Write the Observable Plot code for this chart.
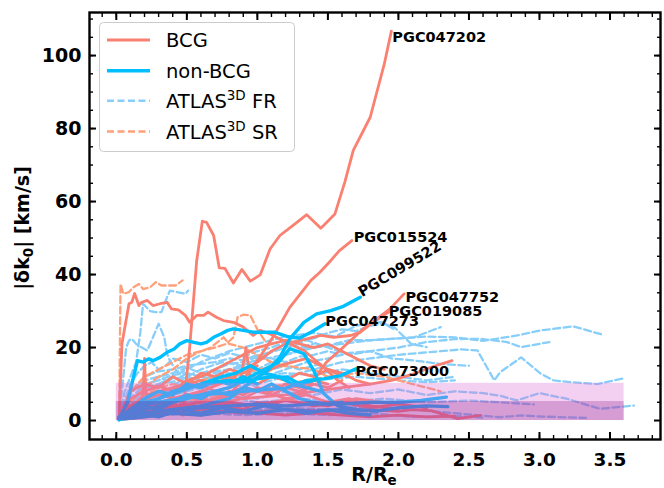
<!DOCTYPE html>
<html><head><meta charset="utf-8">
<script src="https://cdn.jsdelivr.net/npm/d3@7"></script>
<script src="https://cdn.jsdelivr.net/npm/@observablehq/plot@0.6"></script>
<style>body{margin:0;background:#fff;} svg{display:block}</style>
</head><body><div id="chart"></div>
<script>
// ---------- Data ----------
const xTickValues = [0, 0.5, 1.0, 1.5, 2.0, 2.5, 3.0, 3.5];
const xTickLabels = ["0.0", "0.5", "1.0", "1.5", "2.0", "2.5", "3.0", "3.5"];
const yTickValues = [0, 20, 40, 60, 80, 100];
const yTickLabels = ["0", "20", "40", "60", "80", "100"];

// shaded bands: [x start, x end] and upper levels (both start at 0)
const bandX = [0, 3.6];
const bandLevels = [10.2, 5.2];

// ATLAS3D fast rotators (dashed light blue)
const frLines = [
  [[0.02,1],[0.06,8],[0.1,12],[0.14,16],[0.17,24],[0.19,32],[0.24,30],[0.28,29.7],[0.32,29.7],[0.36,33.8],[0.38,35.6],[0.43,35.2],[0.49,34.7],[0.51,35.6]],
  [[0.02,0.5],[0.05,12],[0.07,20],[0.09,21.9],[0.11,22.4],[0.14,21],[0.18,20],[0.22,19.2],[0.26,22.8],[0.30,26.5],[0.34,22.8],[0.36,18.3],[0.38,16.4],[0.42,14],[0.46,12],[0.5,13]],
  [[0.02,1],[0.1,8],[0.2,11],[0.3,12],[0.4,13],[0.5,14.5],[0.6,13],[0.7,14],[0.8,15.5],[0.9,16],[1.0,17.5],[1.1,19],[1.2,21],[1.3,22],[1.4,22.5],[1.5,24],[1.6,25],[1.7,24.5],[1.8,26],[1.9,26.5],[1.97,25.6],[2.09,21],[2.2,20.1]],
  [[0.02,0.5],[0.1,6],[0.2,9],[0.3,10],[0.4,11.5],[0.5,12],[0.6,11],[0.7,12.5],[0.8,13],[0.9,12],[1.0,14],[1.1,16],[1.2,18],[1.35,20],[1.5,20.5],[1.65,22],[1.8,22],[2.0,22.5],[2.2,23],[2.4,22.8],[2.6,21.8],[2.84,23.3],[3.01,24.7],[3.24,25.8],[3.44,23.6]],
  [[0.02,0.3],[0.15,5],[0.3,8],[0.45,9],[0.6,10],[0.75,11],[0.9,10.5],[1.05,12],[1.2,14],[1.35,16],[1.5,17],[1.65,18.5],[1.8,19],[2.0,20],[2.2,21.5],[2.4,22.3],[2.58,22.4],[2.77,21.5],[2.87,20.1],[3.07,21.5]],
  [[0.02,0.5],[0.1,5],[0.25,7],[0.4,8.5],[0.55,9],[0.7,8],[0.85,9.5],[1.0,10],[1.2,12],[1.4,14],[1.6,16],[1.8,17],[2.0,18],[2.15,18.5],[2.3,19],[2.45,19.5],[2.56,19.2],[2.68,11],[2.72,13.2],[2.87,17.3],[3.01,12.8],[3.1,11],[3.22,10.5],[3.41,10],[3.6,11.6]],
  [[0.02,0.2],[0.2,3],[0.4,5],[0.6,6],[0.8,7],[1.0,6],[1.2,8],[1.4,7],[1.6,8.5],[1.8,7.5],[2.0,8.5],[2.2,7],[2.4,8],[2.6,7.5],[2.72,6.8],[2.84,5.5],[3.0,7.5],[3.2,5.9],[3.43,3.2],[3.67,4.1]],
  [[0.02,0.3],[0.3,2],[0.6,3],[0.9,2.5],[1.2,3.5],[1.5,3],[1.8,4],[2.1,3],[2.4,2],[2.72,0.9],[2.87,1.4],[3.01,1.1],[3.33,0.7]],
  [[0.02,0.5],[0.2,4],[0.4,6],[0.6,5],[0.8,6.5],[1.0,5],[1.3,6],[1.6,5],[1.9,6],[2.2,5],[2.5,5.5],[2.72,5],[2.96,4.4]],
  [[0.02,1],[0.2,6],[0.4,9],[0.6,12],[0.8,14],[1.0,16.5],[1.2,18],[1.4,20],[1.6,21],[1.8,22],[2.0,22.5],[2.11,22.8],[2.3,25.6]],
  [[0.02,1],[0.1,10],[0.15,13],[0.2,15],[0.25,16],[0.3,14],[0.35,15],[0.4,17],[0.5,16],[0.6,18],[0.7,17],[0.8,18.5],[0.9,17.5],[1.0,19],[1.1,20],[1.2,21.5],[1.3,20],[1.4,21]],
  [[0.02,0.5],[0.15,7],[0.3,10],[0.45,11],[0.6,14],[0.75,16],[0.9,15],[1.05,18],[1.2,20],[1.35,22],[1.5,20],[1.65,18],[1.8,19],[1.95,17],[2.1,16.5],[2.3,15.5],[2.5,15]],
  [[0.02,0.5],[0.2,3],[0.5,5],[0.8,7],[1.1,9],[1.4,11],[1.7,12],[2.0,11],[2.2,10.5],[2.4,11]],
  [[0.02,0.3],[0.3,1.5],[0.6,2],[0.9,1.5],[1.2,2],[1.5,1.5],[1.8,2],[2.1,1],[2.4,1.2],[2.6,0.8]],
  [[0.02,1],[0.2,8],[0.4,12],[0.6,16],[0.8,19],[1.0,21],[1.2,23],[1.4,24],[1.55,23],[1.7,26],[1.88,27],[1.97,25]],
  [[0.02,0.5],[0.2,5],[0.4,7],[0.6,9],[0.8,11],[1.0,12],[1.2,13],[1.4,12.5],[1.6,14],[1.8,13],[2.0,12],[2.2,11],[2.4,12]],
  [[0.02,0.3],[0.1,4],[0.2,9],[0.3,12],[0.4,10],[0.5,11],[0.6,12],[0.7,11],[0.8,10],[0.9,11],[1.0,9]],
  [[0.02,0.5],[0.1,7],[0.2,12],[0.3,13.5],[0.4,14],[0.5,15],[0.6,15.5],[0.7,16],[0.8,17],[0.9,16.5],[1.0,18],[1.1,17],[1.2,16],[1.3,17.5],[1.4,18],[1.5,19],[1.6,18]],
  [[0.02,0.4],[0.1,6],[0.2,10],[0.3,11],[0.4,12.5],[0.5,13],[0.6,12],[0.7,13.5],[0.8,14],[0.9,14.5],[1.0,13],[1.1,14],[1.2,15],[1.3,14],[1.45,15.5]]
];

// ATLAS3D slow rotators (dashed light salmon)
const srLines = [
  [[0.02,0.5],[0.03,37.4],[0.05,34.7],[0.09,35.2],[0.12,36.5],[0.16,37.4],[0.19,36],[0.24,36.5],[0.28,37.9],[0.32,37],[0.37,37],[0.42,37],[0.47,38.4]],
  [[0.02,0.5],[0.1,5],[0.2,9],[0.3,12],[0.4,14],[0.5,17],[0.6,19],[0.7,20],[0.78,21],[0.83,22.8],[0.86,28.3],[0.9,29],[0.95,28.8],[1.0,25],[1.05,22]],
  [[0.02,0.5],[0.1,8],[0.2,12],[0.3,14],[0.4,16],[0.5,18],[0.6,19],[0.67,20],[0.76,22.8],[0.8,21],[0.9,20],[1.0,18],[1.1,16],[1.2,15]],
  [[0.02,0.5],[0.1,4],[0.2,7],[0.3,9],[0.4,10],[0.5,9],[0.6,11],[0.7,12],[0.8,11],[0.9,13],[1.0,14],[1.2,15],[1.4,14],[1.5,12]],
  [[0.02,0.5],[0.3,4],[0.6,6],[0.9,8],[1.2,10],[1.5,12],[1.7,13],[1.9,12],[2.1,10],[2.3,8]]
];

// BCG (solid salmon)
const bcgLines = [
  [[0.02,1],[0.1,2.5],[0.2,3],[0.3,2],[0.4,3],[0.47,1.5],[0.52,20],[0.57,43.8],[0.61,54.6],[0.64,54.3],[0.69,50.7],[0.73,41.8],[0.77,41.7],[0.83,37.7],[0.89,41.4],[0.95,38.2],[1.02,39.9],[1.09,47],[1.16,50.7],[1.26,53.7],[1.35,56.4],[1.45,52.7],[1.55,56.6],[1.62,65.3],[1.68,74],[1.8,83.1],[1.9,97.7],[1.95,106.7]],
  [[0.02,1],[0.2,3],[0.4,4],[0.6,5],[0.8,7],[0.93,12.8],[1.0,16.4],[1.11,22.8],[1.23,31],[1.38,38.4],[1.44,40.5],[1.52,43.8],[1.58,46.5],[1.67,49.3]],
  [[0.02,0.5],[0.04,21],[0.09,32],[0.11,32.4],[0.13,34.8],[0.16,31.5],[0.18,32.4],[0.22,32.9],[0.26,31.5],[0.31,32],[0.36,32.4],[0.39,30.6],[0.44,30.3],[0.49,28.8],[0.52,26.9],[0.57,28.8],[0.62,28.8],[0.65,29.7],[0.71,28.3],[0.76,27.4],[0.83,26.9],[0.9,25.6],[0.97,23.3],[1.02,24.7],[1.09,23.7],[1.23,21],[1.33,19.2],[1.47,14.6],[1.57,11],[1.65,9]],
  [[0.02,0.5],[0.3,2],[0.6,3],[0.9,4],[1.1,5],[1.25,6],[1.33,7.8],[1.42,12.3],[1.49,16],[1.57,18.7],[1.66,21.9],[1.75,25.1],[1.85,27.9],[1.94,30.6],[2.04,34.7]],
  [[0.02,1],[0.2,4],[0.4,6],[0.6,8],[0.8,11],[0.9,14],[1.0,16],[1.1,19],[1.2,21],[1.35,22.4],[1.45,23.3],[1.54,22.8],[1.66,23.3],[1.73,24.2],[1.82,26.9],[1.93,29.7]],
  [[0.02,0.5],[0.3,3],[0.6,4],[0.9,6],[1.2,7],[1.4,8],[1.6,9],[1.8,10],[1.95,11],[2.11,12.8],[2.23,14.6],[2.38,16.4]],
  [[0.02,0.5],[0.1,3],[0.15,5],[0.19,7],[0.2,17],[0.21,7],[0.3,8],[0.4,9],[0.5,10],[0.6,11],[0.7,10],[0.8,12],[0.88,11],[0.92,20],[0.95,11],[1.05,13],[1.15,15],[1.25,16],[1.35,17],[1.45,15],[1.55,13],[1.65,12]],
  [[0.02,0.5],[0.1,6],[0.2,8],[0.3,9.5],[0.4,8],[0.5,11],[0.6,12],[0.7,14],[0.8,16],[0.9,18],[1.0,20],[1.1,21],[1.2,22],[1.3,21],[1.4,20],[1.5,21],[1.6,19],[1.7,17],[1.8,15],[1.9,14]],
  [[0.02,0.3],[0.1,3],[0.2,5],[0.3,4],[0.4,6],[0.5,7],[0.6,5],[0.7,6],[0.8,8],[0.9,7],[1.0,9],[1.1,8],[1.2,10],[1.3,9],[1.4,11],[1.5,10]],
  [[0.02,0.5],[0.1,2],[0.2,1.5],[0.3,3],[0.4,2],[0.5,4],[0.6,3],[0.7,5],[0.8,4],[0.9,3],[1.0,5],[1.1,4],[1.2,6],[1.3,5],[1.5,4],[1.7,6],[1.9,5]],
  [[0.02,1],[0.1,4],[0.2,6],[0.3,8],[0.4,7],[0.5,9],[0.6,10],[0.7,8],[0.8,9],[0.9,11],[1.0,10],[1.1,12],[1.2,11],[1.3,13],[1.4,12],[1.5,14],[1.6,13],[1.7,11],[1.8,10]],
  [[0.02,0.2],[0.2,1],[0.4,2],[0.6,1.5],[0.8,2.5],[1.0,2],[1.2,1.5],[1.4,2],[1.6,1.5],[1.8,1],[2.0,1.5],[2.2,1],[2.4,1.2]],
  [[0.02,0.5],[0.3,2],[0.6,3],[0.9,2],[1.2,3],[1.5,2.5],[1.8,3],[2.0,2.5],[2.1,3],[2.23,2.7],[2.42,0.5],[2.58,1.4]],
  [[0.02,0.5],[0.15,5],[0.3,7],[0.45,6],[0.6,8],[0.75,7],[0.9,9],[1.05,8],[1.2,6],[1.35,7],[1.5,5],[1.65,6],[1.8,4],[2.0,3]],
  [[0.02,0.8],[0.1,8],[0.2,10],[0.3,9],[0.4,12],[0.5,10],[0.6,13],[0.7,12],[0.8,14],[0.9,13],[1.0,15]],
  [[0.02,0.3],[0.2,2.5],[0.4,4],[0.6,3.5],[0.8,5],[1.0,4],[1.2,5.5],[1.4,4],[1.6,5],[1.8,3.5],[2.0,4.5],[2.2,3.5]],
  [[0.02,0.5],[0.1,1],[0.2,3],[0.3,2],[0.4,4],[0.5,3],[0.6,6],[0.7,5],[0.8,7],[0.9,6],[1.0,8],[1.1,7],[1.2,9],[1.3,8],[1.4,10],[1.5,9],[1.6,11]]
];

// non-BCG (solid deep sky blue)
const nonBcgLines = [
  [[0.02,0.5],[0.2,2],[0.4,3],[0.6,4],[0.8,6],[0.97,11],[1.08,14],[1.16,17.3],[1.23,22.4],[1.33,26.9],[1.42,29.2],[1.52,30.1],[1.61,31.3],[1.73,33.8]],
  [[0.02,0.5],[0.08,5],[0.11,10],[0.15,16.4],[0.19,16],[0.23,16.9],[0.26,16.4],[0.31,17.3],[0.36,18.7],[0.41,19.6],[0.45,21],[0.5,21.9],[0.55,21.4],[0.6,21],[0.64,21.4],[0.69,22.8],[0.74,23.7],[0.79,24.7],[0.83,25.1],[0.9,24.7],[0.97,24.2],[1.02,24.2],[1.12,24.2],[1.23,22.8],[1.3,22.6],[1.38,24.2],[1.48,26.5]],
  [[0.02,1],[0.15,4],[0.3,5],[0.45,6],[0.6,7],[0.75,7.5],[0.9,8],[1.05,8.5],[1.2,8.8],[1.35,11],[1.47,11.4],[1.59,12.3],[1.7,14.2]],
  [[0.02,0.5],[0.2,3],[0.4,5],[0.6,7],[0.8,9],[0.95,12],[1.05,14],[1.15,16],[1.23,19.7],[1.33,18.3],[1.4,13.7],[1.47,7.4],[1.57,4],[1.7,3],[1.85,2.5]],
  [[0.02,0.3],[0.1,3],[0.2,5],[0.3,6],[0.4,8],[0.5,9],[0.6,10],[0.7,10.5],[0.8,11],[0.9,10.5],[1.0,11.4],[1.1,12],[1.21,11.9],[1.3,10],[1.4,11]],
  [[0.02,0.5],[0.15,4],[0.3,6],[0.45,8],[0.6,10],[0.75,12],[0.85,13],[0.95,15],[1.05,13],[1.15,12],[1.25,10],[1.35,9],[1.45,8]],
  [[0.02,0.5],[0.2,2],[0.4,3],[0.6,3.5],[0.8,4],[1.0,4.5],[1.2,4],[1.4,4.5],[1.6,4.5],[1.8,5],[2.01,5],[2.16,5.5],[2.34,6.4]],
  [[0.02,0.3],[0.2,1],[0.4,2],[0.6,1.5],[0.8,2.5],[1.0,2],[1.2,3],[1.4,2.5],[1.6,3],[1.87,2.7],[2.0,3.5],[2.2,4],[2.35,3.8]],
  [[0.02,0.2],[0.1,2],[0.2,4],[0.3,3],[0.4,5],[0.5,7],[0.6,6],[0.7,8],[0.8,7],[0.9,9],[1.0,8],[1.1,10],[1.2,8],[1.3,6],[1.4,5],[1.5,4.5],[1.6,5]],
  [[0.02,0.4],[0.15,2],[0.3,1],[0.45,3],[0.6,2],[0.75,3.5],[0.9,2.5],[1.05,4],[1.2,3],[1.35,2],[1.5,3],[1.65,2],[1.8,1.5]],
  [[0.02,0.5],[0.1,3],[0.2,6],[0.3,8],[0.4,7],[0.5,10],[0.6,9],[0.7,11],[0.8,10],[0.9,12],[1.0,10]]
];

// annotations
const annNames = ["PGC047202", "PGC015524", "PGC099522", "PGC047752", "PGC019085", "PGC047273", "PGC073000"];
const annX = [1.957, 1.683, 1.725, 2.05, 1.931, 1.482, 1.695];
const annY = [104.9, 50.2, 34.9, 33.8, 29.8, 27.1, 13.6];
const annRot = [0, 0, -31, 0, 0, 0, 0];

// ---------- Build ----------
const flat = (lines, g) => lines.flatMap((pts, i) => pts.map(([x, y]) => ({x, y, id: g + i})));
const frData = flat(frLines, "fr");
const srData = flat(srLines, "sr");
const bcgData = flat(bcgLines, "bcg");
const nonData = flat(nonBcgLines, "non");
const bands = bandLevels.map((lv, i) => ({x1: bandX[0], x2: bandX[1], y1: 0, y2: lv, k: i}));
const ann = annNames.map((t, i) => ({t, x: annX[i], y: annY[i], r: annRot[i]}));

const xMinor = d3.range(-0.1, 3.85, 0.1).map(v => Math.round(v * 10) / 10);
const yMinor = d3.range(5, 111, 5);
const xFmt = v => xTickLabels[xTickValues.indexOf(v)] ?? "";
const yFmt = v => yTickLabels[yTickValues.indexOf(v)] ?? "";
const none = () => "";

const COL_BCG = "#fa8072", COL_NON = "#00bfff", COL_FR = "#87cefa", COL_SR = "#ffa07a";

const svg = Plot.plot({
  width: 664, height: 488,
  marginLeft: 89, marginRight: 4, marginTop: 12, marginBottom: 49,
  x: {domain: [-0.19, 3.858]},
  y: {domain: [-5.2, 111.8]},
  style: {fontFamily: "DejaVu Sans", background: "white", overflow: "visible"},
  marks: [
    Plot.line(frData, {x: "x", y: "y", z: "id", stroke: COL_FR, strokeWidth: 2.3, strokeDasharray: "7,3.5"}),
    Plot.line(srData, {x: "x", y: "y", z: "id", stroke: COL_SR, strokeWidth: 2.3, strokeDasharray: "7,3.5"}),
    Plot.line(bcgData, {x: "x", y: "y", z: "id", stroke: COL_BCG, strokeWidth: 2.8}),
    Plot.line(nonData, {x: "x", y: "y", z: "id", stroke: COL_NON, strokeWidth: 3.4}),
    Plot.rect(bands.filter(d => d.k === 0), {x1: "x1", x2: "x2", y1: "y1", y2: "y2", fill: "#da70d6", fillOpacity: 0.33}),
    Plot.rect(bands.filter(d => d.k === 1), {x1: "x1", x2: "x2", y1: "y1", y2: "y2", fill: "#800080", fillOpacity: 0.25}),
    Plot.text(ann, {x: "x", y: "y", text: "t", rotate: "r", textAnchor: "start", lineAnchor: "middle", fontWeight: "bold", fontSize: 14.5, fill: "black"}),
    Plot.frame({stroke: "black", strokeWidth: 2.4}),
    // tick labels
    Plot.axisX({anchor: "bottom", ticks: xTickValues, tickSize: 0, tickPadding: 13, tickFormat: xFmt, fontSize: 18.5, fontWeight: "bold", label: null}),
    Plot.axisY({anchor: "left", ticks: yTickValues, tickSize: 0, tickPadding: 8, tickFormat: yFmt, fontSize: 19, fontWeight: "bold", label: null}),
    // inward ticks, all four sides
    Plot.axisX({anchor: "bottom", ticks: xTickValues, tickSize: -7, strokeWidth: 2, tickFormat: none, label: null}),
    Plot.axisX({anchor: "top", ticks: xTickValues, tickSize: -7, strokeWidth: 2, tickFormat: none, label: null}),
    Plot.axisX({anchor: "bottom", ticks: xMinor, tickSize: -4, strokeWidth: 1.4, tickFormat: none, label: null}),
    Plot.axisX({anchor: "top", ticks: xMinor, tickSize: -4, strokeWidth: 1.4, tickFormat: none, label: null}),
    Plot.axisY({anchor: "left", ticks: yTickValues, tickSize: -7, strokeWidth: 2, tickFormat: none, label: null}),
    Plot.axisY({anchor: "right", ticks: yTickValues, tickSize: -7, strokeWidth: 2, tickFormat: none, label: null}),
    Plot.axisY({anchor: "left", ticks: yMinor, tickSize: -4, strokeWidth: 1.4, tickFormat: none, label: null}),
    Plot.axisY({anchor: "right", ticks: yMinor, tickSize: -4, strokeWidth: 1.4, tickFormat: none, label: null})
  ]
});

// axis titles
const s = d3.select(svg);
const yl = s.append("text")
  .attr("transform", "translate(28.5,228) rotate(-90)")
  .attr("text-anchor", "middle")
  .attr("font-family", "DejaVu Sans").attr("font-weight", "bold").attr("font-size", 19).attr("fill", "black");
yl.append("tspan").text("|δk");
yl.append("tspan").attr("font-size", 13.5).attr("dy", 4).text("0");
yl.append("tspan").attr("dy", -4).text("| [km/s]");

const xl = s.append("text")
  .attr("x", 374).attr("y", 481)
  .attr("text-anchor", "middle")
  .attr("font-family", "DejaVu Sans").attr("font-weight", "bold").attr("font-size", 19).attr("fill", "black");
xl.append("tspan").text("R/R");
xl.append("tspan").attr("font-size", 13.5).attr("dy", 4).text("e");

// legend
const lg = s.append("g").attr("font-family", "DejaVu Sans").attr("font-size", 19.5).attr("text-anchor", "start");
lg.append("rect").attr("x", 99.5).attr("y", 22.5).attr("width", 195).attr("height", 129).attr("rx", 4)
  .attr("fill", "white").attr("fill-opacity", 0.85).attr("stroke", "#cccccc").attr("stroke-width", 1);
const items = [
  {label: "BCG", color: COL_BCG, dash: null, w: 3, yy: 40},
  {label: "non-BCG", color: COL_NON, dash: null, w: 3.4, yy: 70.7},
  {label: "FR", color: COL_FR, dash: "7,3.5", w: 2.5, yy: 100.7, atlas: true},
  {label: "SR", color: COL_SR, dash: "7,3.5", w: 2.5, yy: 131.5, atlas: true}
];
items.forEach(it => {
  lg.append("line").attr("x1", 107).attr("x2", 150).attr("y1", it.yy).attr("y2", it.yy)
    .attr("stroke", it.color).attr("stroke-width", it.w).attr("stroke-dasharray", it.dash);
  const t = lg.append("text").attr("x", 166).attr("y", it.yy + 7).attr("fill", "black").attr("text-anchor", "start");
  if (it.atlas) {
    t.append("tspan").text("ATLAS");
    t.append("tspan").attr("font-size", 13.5).attr("dy", -8).text("3D");
    t.append("tspan").attr("dy", 8).text(" " + it.label);
  } else {
    t.text(it.label);
  }
});

document.getElementById("chart").appendChild(svg);
</script></body></html>
